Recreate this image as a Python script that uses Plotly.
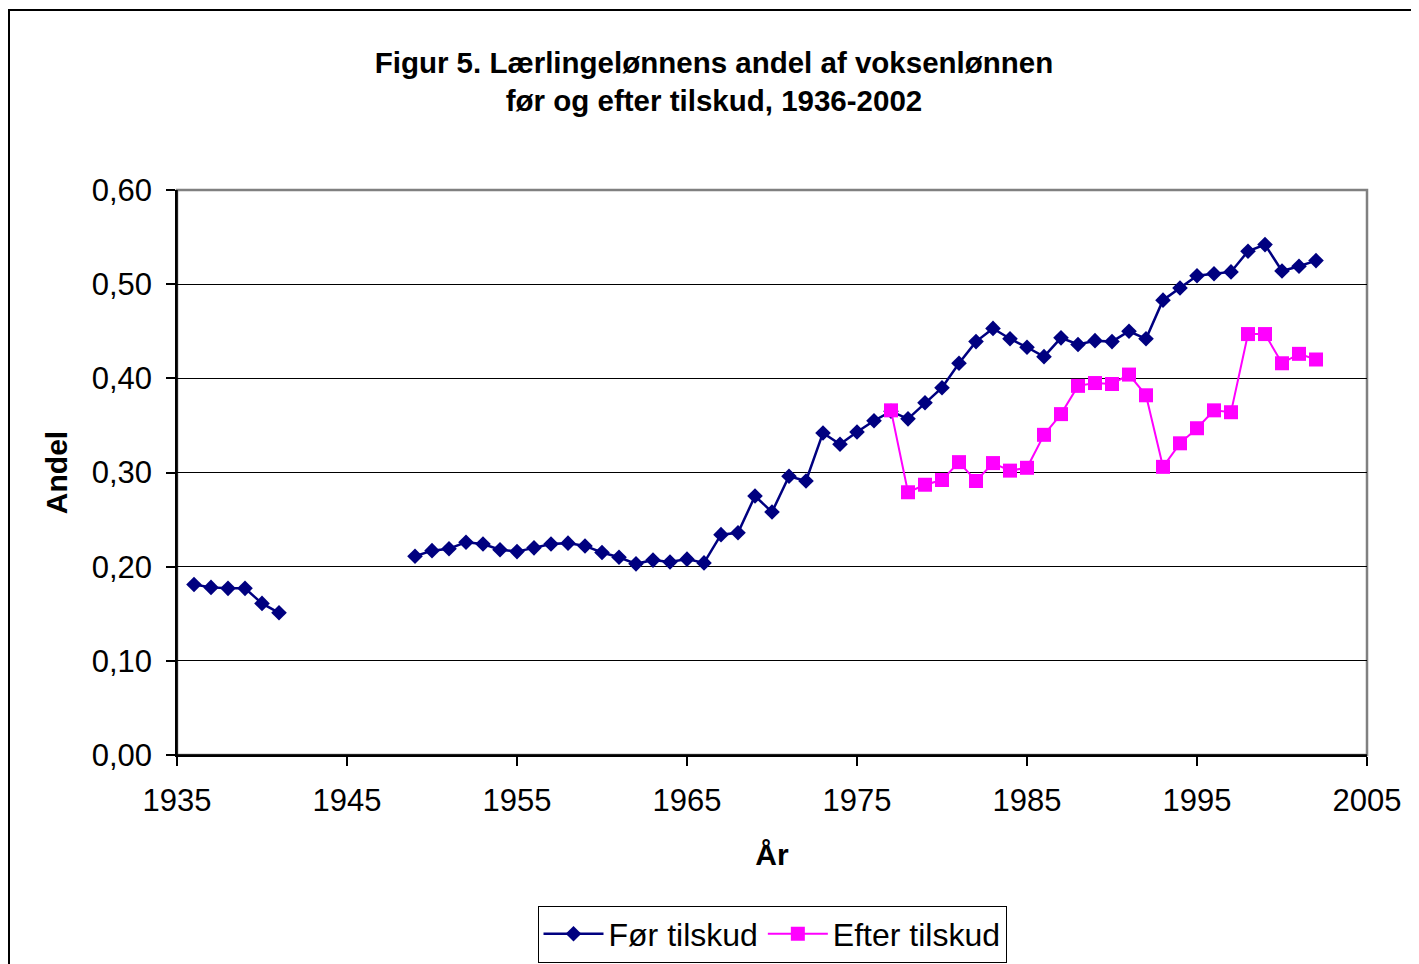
import plotly.graph_objects as go

years = list(range(1936, 2003))

for_tilskud_by_year = {
    1936: 0.181, 1937: 0.178, 1938: 0.177, 1939: 0.177, 1940: 0.161, 1941: 0.151,
    1949: 0.211, 1950: 0.217, 1951: 0.219, 1952: 0.226, 1953: 0.224, 1954: 0.218,
    1955: 0.216, 1956: 0.220, 1957: 0.224, 1958: 0.225, 1959: 0.222, 1960: 0.215,
    1961: 0.210, 1962: 0.203, 1963: 0.207, 1964: 0.205, 1965: 0.208, 1966: 0.204,
    1967: 0.234, 1968: 0.236, 1969: 0.275, 1970: 0.258, 1971: 0.296, 1972: 0.291,
    1973: 0.342, 1974: 0.330, 1975: 0.343, 1976: 0.355, 1977: 0.365, 1978: 0.357,
    1979: 0.374, 1980: 0.390, 1981: 0.416, 1982: 0.439, 1983: 0.453, 1984: 0.442,
    1985: 0.433, 1986: 0.423, 1987: 0.443, 1988: 0.436, 1989: 0.440, 1990: 0.439,
    1991: 0.450, 1992: 0.442, 1993: 0.483, 1994: 0.496, 1995: 0.509, 1996: 0.511,
    1997: 0.513, 1998: 0.535, 1999: 0.542, 2000: 0.514, 2001: 0.519, 2002: 0.525,
}

efter_years = list(range(1977, 2003))
efter_tilskud = [
    0.366, 0.279, 0.287, 0.292, 0.311, 0.291, 0.310, 0.302, 0.305, 0.340,
    0.362, 0.392, 0.395, 0.394, 0.404, 0.382, 0.306, 0.331, 0.347, 0.366,
    0.364, 0.447, 0.447, 0.416, 0.426, 0.420,
]

for_tilskud = [for_tilskud_by_year.get(y) for y in years]

x_ticks = [1935, 1945, 1955, 1965, 1975, 1985, 1995, 2005]
y_ticks = [0.0, 0.1, 0.2, 0.3, 0.4, 0.5, 0.6]

FONT = "Liberation Sans, Arial, sans-serif"

# page has an 8px body margin; figure coordinates = page coordinates - 8
W, H = 1411, 956
L, R, T, B = 169, 52, 182, 209
PW = W - L - R
PH = H - T - B

fig = go.Figure()
fig.add_trace(go.Scatter(
    x=years, y=for_tilskud, name="Før tilskud", mode="lines+markers",
    line=dict(color="#000080", width=2.5),
    marker=dict(symbol="diamond", size=12, color="#000080"),
    connectgaps=False,
))
fig.add_trace(go.Scatter(
    x=efter_years, y=efter_tilskud, name="Efter tilskud", mode="lines+markers",
    line=dict(color="#FF00FF", width=2),
    marker=dict(symbol="square", size=14, color="#FF00FF"),
))

fig.update_layout(
    width=W, height=H,
    margin=dict(l=L, r=R, t=T, b=B, autoexpand=False),
    paper_bgcolor="white", plot_bgcolor="white",
    separators=",.",
    font=dict(family=FONT, color="black", size=28),
    title=dict(
        text="<b>Figur 5. Lærlingelønnens andel af voksenlønnen<br>før og efter tilskud, 1936-2002</b>",
        x=706 / W, xanchor="center", xref="container",
        y=1 - 65 / H, yanchor="middle", yref="container",
        font=dict(family=FONT, size=29.5, color="black"),
    ),
    xaxis=dict(
        range=[1935, 2005], tickvals=x_ticks, ticktext=[str(v) for v in x_ticks],
        showgrid=False, zeroline=False,
        showline=True, linecolor="black", linewidth=1.5,
        ticks="outside", ticklen=9, tickcolor="black", tickwidth=1.5,
        ticklabelstandoff=8,
        tickfont=dict(family=FONT, size=31, color="black"),
        title=dict(text="<b>År</b>", font=dict(family=FONT, size=30, color="black"), standoff=27),
    ),
    yaxis=dict(
        range=[0, 0.6], tickvals=y_ticks, tickformat=".2f",
        showgrid=True, gridcolor="black", gridwidth=1, zeroline=False,
        showline=True, linecolor="black", linewidth=1.5,
        ticks="outside", ticklen=9, tickcolor="black", tickwidth=1.5,
        ticklabelstandoff=8,
        tickfont=dict(family=FONT, size=31, color="black"),
        title=dict(text="<b>Andel</b>", font=dict(family=FONT, size=30, color="black"), standoff=15),
    ),
    legend=dict(
        orientation="h", x=0.5, xanchor="center", y=(747 - 926) / PH, yanchor="middle",
        bordercolor="black", borderwidth=1, bgcolor="white",
        font=dict(family=FONT, size=32, color="black"),
        itemwidth=60, tracegroupgap=0,
    ),
    showlegend=True,
)

# plot-area border (grey top/right)
fig.add_shape(type="rect", xref="paper", yref="paper", x0=0, y0=0, x1=1, y1=1,
              line=dict(color="#808080", width=2.5), layer="below")
fig.add_shape(type="line", xref="paper", yref="paper", x0=0, y0=0, x1=0, y1=1,
              line=dict(color="black", width=1.5))
fig.add_shape(type="line", xref="paper", yref="paper", x0=0, y0=0, x1=1, y1=0,
              line=dict(color="black", width=1.5))
# outer chart frame (page x=8, y=10)
fig.add_shape(type="rect", xref="paper", yref="paper",
              x0=(1 - L) / PW, y0=(PH + T - 1000) / PH,
              x1=(1440 - L) / PW, y1=(PH + T - 2) / PH,
              line=dict(color="black", width=2))

fig.write_html("out.html")
